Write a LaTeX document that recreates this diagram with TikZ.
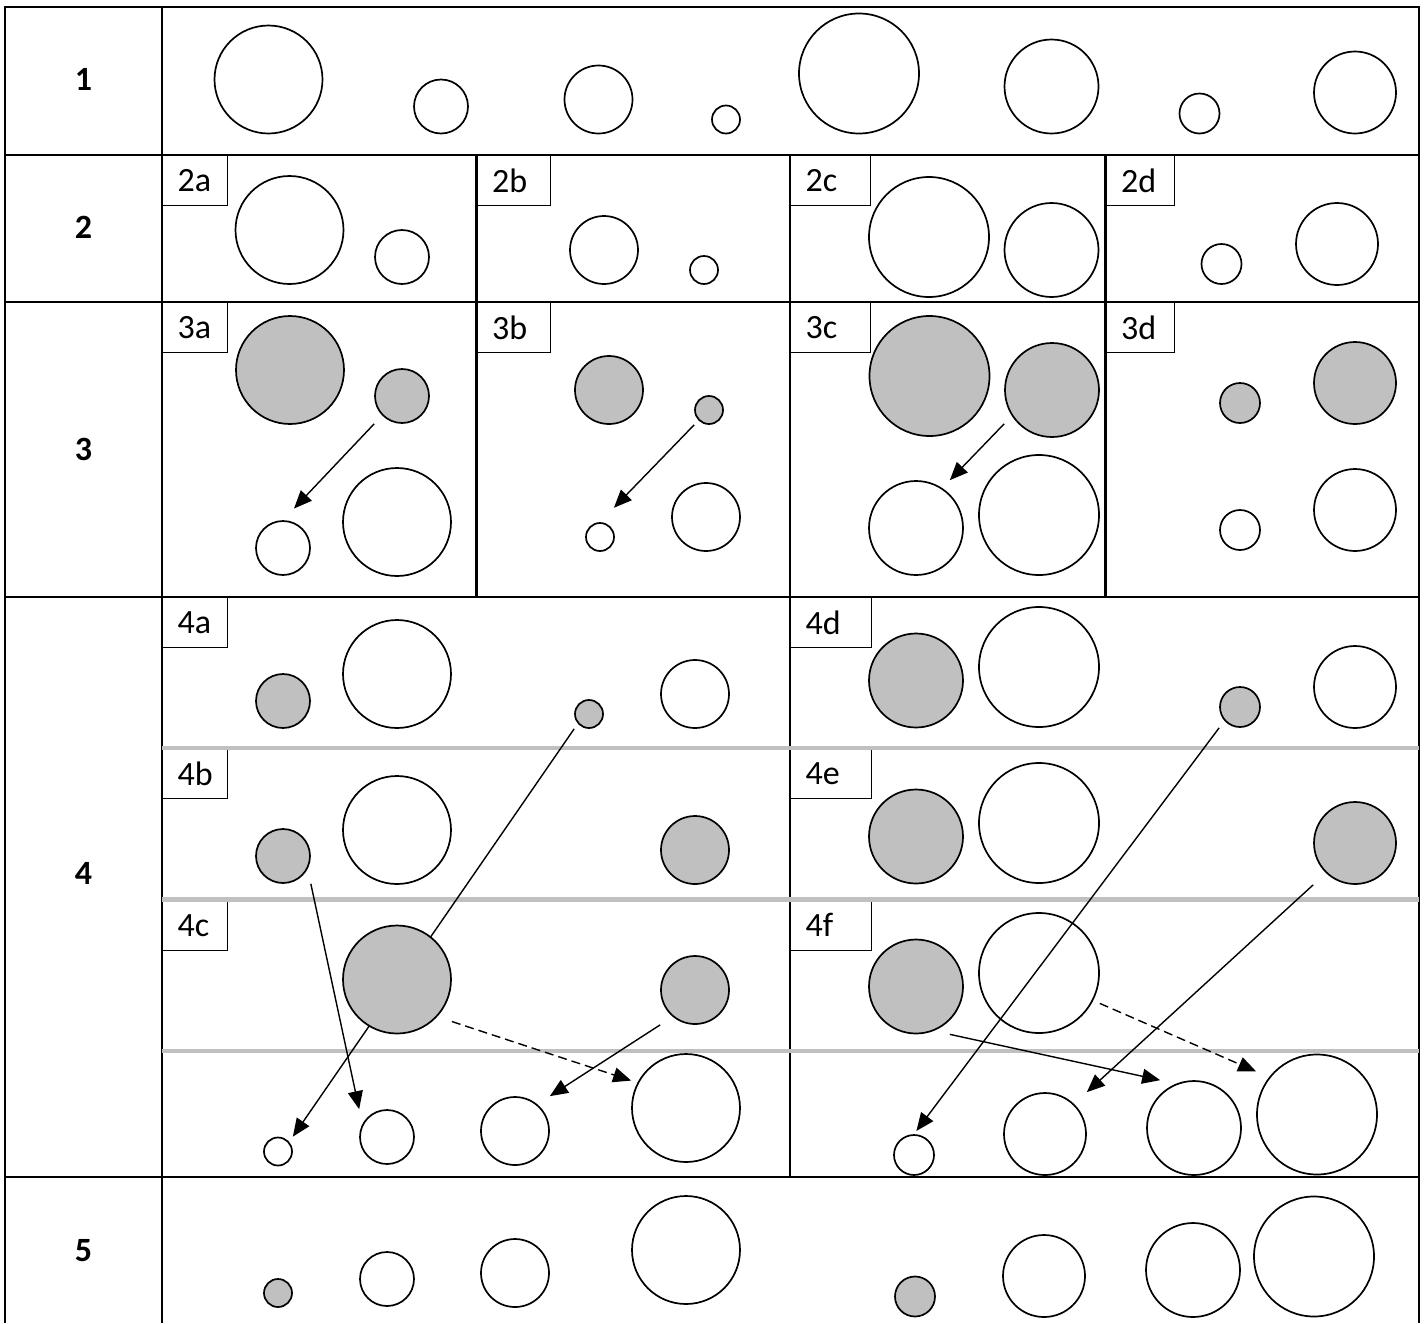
\documentclass[tikz,border=0pt]{standalone}
\usepackage{fontspec}
\setmainfont{Carlito}
\usepackage{tikz}
\usetikzlibrary{arrows.meta}
\definecolor{silver}{HTML}{C0C0C0}
\pgfdeclarelayer{grid}
\pgfdeclarelayer{links}
\pgfsetlayers{grid,links,main}

\begin{document}
\begin{tikzpicture}[x=.5pt, y=-.5pt, font=\fontsize{17}{20}\selectfont,
      rule/.style={line width=1.1pt},
      sep/.style={draw=silver, line width=2.1pt},
      lab/.style={draw, line width=.7pt, anchor=north west, minimum height=25pt, inner xsep=7.5pt, inner ysep=0pt, text width=#1, align=left},
      num/.style={font=\fontsize{17}{20}\selectfont\bfseries},
      wc/.style={circle, draw, line width=.85pt, inner sep=0pt, minimum size=#1pt},
      gc/.style={wc=#1, fill=silver},
      arr/.style={-{Triangle[length=9pt,width=7.5pt]}, line width=.7pt},
      dsh/.style={dash pattern=on 4.5pt off 2.5pt}]
      \useasboundingbox (0,0) rectangle (1424,1323);

      \begin{pgfonlayer}{grid}
      \draw[rule] (5,1323) -- (5,7) -- (1419,7) -- (1419,1323);
      \draw[rule] (162,7) -- (162,1323);
      \foreach \yy in {155,302,597,1177} \draw[rule] (5,\yy) -- (1419,\yy);
      \foreach \xx in {476.5,1105.5} \draw[rule] (\xx,155) -- (\xx,597);
      \draw[rule] (790,155) -- (790,1177);

      \foreach \nn/\yy in {1/79,2/227,3/449,4/873,5/1251} \node[num] (n\nn) at (83.5,\yy) {\nn};

      \foreach \rr/\yy in {2/155,3/302} {
        \node[lab=17.5pt] (l\rr a) at (162,\yy) {\rr a};
        \node[lab=21.5pt] (l\rr b) at (476.5,\yy) {\rr b};
        \node[lab=25pt] (l\rr c) at (790,\yy) {\rr c};
        \node[lab=19pt] (l\rr d) at (1105.5,\yy) {\rr d};}
      \foreach \ll/\mm/\yy in {a/d/597,b/e/748,c/f/899.5} {
        \node[lab=17.5pt] (l4\ll) at (162,\yy) {4\ll};
        \node[lab=25.5pt] (l4\mm) at (790,\yy) {4\mm};}
      \foreach \yy in {748,899.5,1051} \draw[sep] (162,\yy) -- (1419,\yy);
      \end{pgfonlayer}

      \foreach \xx/\rad [count=\i] in {268.5/54,441/27,598.5/34,726/14,859/60,1051.5/47,1199.5/20,1355/41}
        \node[wc=\rad] (p\i) at (\xx,133.5-\rad) {};

      \node[wc=54] (q1) at (289.5,230) {};
      \node[wc=27] (q2) at (402,257) {};
      \node[wc=34] (q3) at (604,250) {};
      \node[wc=14] (q4) at (704,270) {};
      \node[wc=60] (q5) at (929,237) {};
      \node[wc=47] (q6) at (1051.5,250) {};
      \node[wc=20] (q7) at (1221.5,264) {};
      \node[wc=41] (q8) at (1337,244) {};

      \node[gc=54] (g3a1) at (290,370) {};
      \node[gc=27] (g3a2) at (402,396) {};
      \node[wc=27] (w3a1) at (283,548) {};
      \node[wc=54] (w3a2) at (397,522) {};
      \node[gc=34] (g3b1) at (609,390) {};
      \node[gc=14] (g3b2) at (709,410) {};
      \node[wc=14] (w3b1) at (600,537) {};
      \node[wc=34] (w3b2) at (706,517) {};
      \node[gc=60] (g3c1) at (929.5,376) {};
      \node[gc=47] (g3c2) at (1052,390) {};
      \node[wc=47] (w3c1) at (916,528) {};
      \node[wc=60] (w3c2) at (1039,515) {};
      \node[gc=20] (g3d1) at (1240,403) {};
      \node[gc=41] (g3d2) at (1355,383) {};
      \node[wc=20] (w3d1) at (1240,530) {};
      \node[wc=41] (w3d2) at (1355,510) {};

      \node[gc=27] (g4a1) at (283,701) {};
      \node[wc=54] (w4a1) at (397,674) {};
      \node[gc=14] (g4a2) at (589,714) {};
      \node[wc=34] (w4a2) at (695,694) {};
      \node[gc=27] (g4b1) at (283,856) {};
      \node[wc=54] (w4b1) at (397,830) {};
      \node[gc=34] (g4b2) at (695,850) {};
      \node[gc=54] (g4c1) at (397,979.5) {};
      \node[gc=34] (g4c2) at (695,990) {};
      \node[wc=14] (w4l1) at (278,1151.5) {};
      \node[wc=27] (w4l2) at (387,1137) {};
      \node[wc=34] (w4l3) at (515,1131) {};
      \node[wc=54] (w4l4) at (686,1108) {};

      \node[gc=47] (g4d1) at (916,680.5) {};
      \node[wc=60] (w4d1) at (1039,667) {};
      \node[gc=20] (g4d2) at (1240,707) {};
      \node[wc=41] (w4d2) at (1355,687) {};
      \node[gc=47] (g4e1) at (916,836.5) {};
      \node[wc=60] (w4e1) at (1039,823) {};
      \node[gc=41] (g4e2) at (1355,843) {};
      \node[gc=47] (g4f1) at (916,986.5) {};
      \node[wc=60] (w4f1) at (1039,973) {};
      \node[wc=20] (w4r1) at (914,1155) {};
      \node[wc=41] (w4r2) at (1045,1134) {};
      \node[wc=47] (w4r3) at (1194,1128) {};
      \node[wc=60] (w4r4) at (1317,1114.5) {};

      \node[gc=14] (g5a) at (278,1293) {};
      \node[wc=27] (w5a1) at (387,1279) {};
      \node[wc=34] (w5a2) at (515,1273) {};
      \node[wc=54] (w5a3) at (686,1250) {};
      \node[gc=20] (g5b) at (915,1296.5) {};
      \node[wc=41] (w5b1) at (1044,1276) {};
      \node[wc=47] (w5b2) at (1193,1270) {};
      \node[wc=60] (w5b3) at (1314,1256.5) {};

      \begin{pgfonlayer}{links}
      \draw[arr, shorten >=8pt] (g3a2.west |- g3a2.south) -- (w3a1.north);
      \draw[arr, shorten >=10pt] (g3b2.west |- g3b2.south) -- (w3b1.north);
      \draw[arr] (g3c2.west |- g3c2.south west) -- (w3c1.north east |- w3c1.north);
      \draw[arr] (g4a2.west |- g4a2.south) -- (w4l1.east |- w4l1.north);
      \draw[arr] (g4b1.east |- g4b1.south) -- (w4l2.west |- w4l2.north);
      \draw[arr] (g4c2.west |- g4c2.south) -- (w4l3.east |- w4l3.north);
      \draw[arr, dsh] (g4c1.east |- g4c1.-50) -- (w4l4.west |- w4l4.150);
      \draw[arr, shorten >=2pt] (g4d2.west |- g4d2.south) -- (w4r1.north);
      \draw[arr] (g4e2.west |- g4e2.south) -- (w4r2.east |- w4r2.north);
      \draw[arr] (g4f1.south east |- g4f1.south) -- (w4r3.north west |- w4r3.north);
      \draw[arr, dsh] (w4f1.east |- w4f1.-30) -- (w4r4.west |- w4r4.north west);
      \end{pgfonlayer}
    \end{tikzpicture}
\end{document}
